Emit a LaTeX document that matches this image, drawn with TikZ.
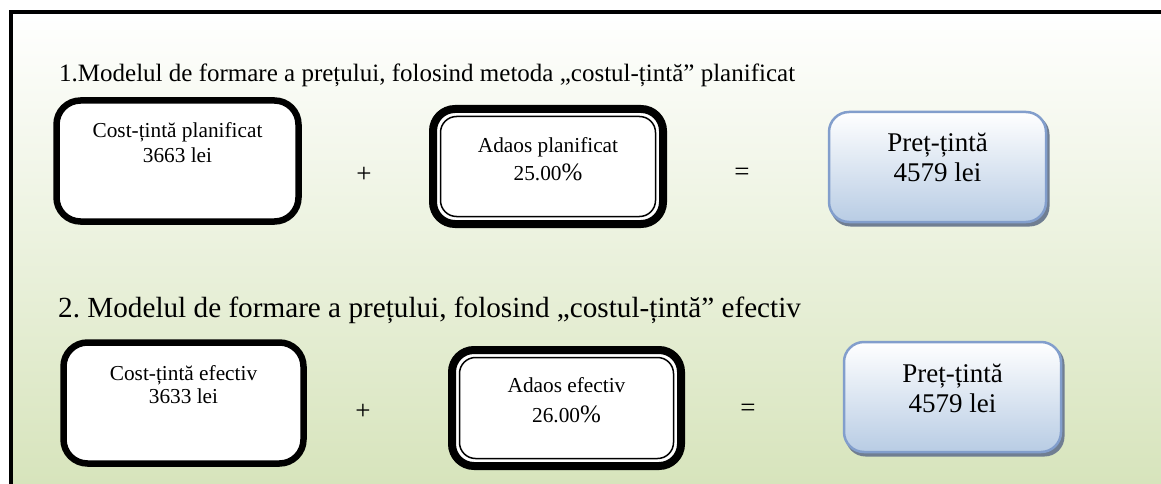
\documentclass[tikz,border=0pt]{standalone}
\usepackage{fontspec}
\setmainfont{Liberation Serif}
\frenchspacing
\definecolor{bgbot}{RGB}{215,228,188}
\definecolor{bluebd}{RGB}{130,158,204}
\definecolor{bluebot}{RGB}{184,204,228}
\definecolor{shadowc}{RGB}{112,126,146}
\begin{document}
\begin{tikzpicture}[x=1pt,y=-1pt,
  costbox/.style={draw=black, line width=6.5pt, fill=white, rounded corners=24pt, inner sep=0pt},
  adaosout/.style={draw=black, line width=8pt, fill=white, rounded corners=22pt, inner sep=0pt},
  adaosin/.style={draw=black, line width=1.5pt, rounded corners=16pt, inner sep=0pt},
  pretbox/.style={draw=bluebd, line width=2.5pt, top color=white, bottom color=bluebot, rounded corners=20pt, inner sep=0pt, minimum width=217pt, minimum height=110pt},
  pretshadow/.style={fill=shadowc, rounded corners=20pt, inner sep=0pt, minimum width=219pt, minimum height=112pt},
  ttl/.style={font=\fontsize{25}{29}\selectfont, anchor=base west, inner sep=0pt},
  ttlb/.style={font=\fontsize{29.2}{33}\selectfont, anchor=base west, inner sep=0pt},
  small/.style={font=\fontsize{21.3}{24}\selectfont, anchor=base, inner sep=0pt},
  big/.style={font=\fontsize{27}{30}\selectfont, anchor=base, inner sep=0pt},
  op/.style={font=\fontsize{27}{30}\selectfont, inner sep=0pt}
]
\useasboundingbox (0,0) rectangle (1161,484);
% background
\shade[top color=white, bottom color=bgbot] (11,12) rectangle (1161,484);
\draw[line width=4pt] (11,486) -- (11,12) -- (1163,12);

% titles
\node[ttl] (t1) at (59,82) {1.Modelul de formare a prețului, folosind metoda „costul-țintă” planificat};
\node[ttlb] (t2) at (58,317) {2. Modelul de formare a prețului, folosind „costul-țintă” efectiv};

% row 1
\node[costbox, minimum width=242pt, minimum height=121pt] (c1) at (177.5,161) {};
\node[small] (c1a) at (177.5,138) {Cost-țintă planificat};
\node[small] (c1b) at (177.5,162) {3663 lei};
\node[op] (p1) at (364,175) {+};

\node[adaosout, minimum width=230pt, minimum height=115pt] (a1) at (548,166.5) {};
\node[adaosin, minimum width=215pt, minimum height=100pt] (a1i) at (548,166.5) {};
\node[small] (a1a) at (548,152) {Adaos planificat};
\node[small] (a1b) at (548,180) {25.00{\fontsize{25}{25}\selectfont\%}};
\node[op] (e1) at (742,174) {=};

\node[pretshadow] (s1) at (940,170.5) {};
\node[pretbox] (r1) at (937.5,167) {};
\node[big] (r1a) at (937.5,151) {Preț-țintă};
\node[big] (r1b) at (937.5,181) {4579 lei};

% row 2
\node[costbox, minimum width=240pt, minimum height=121pt] (c2) at (183.5,403) {};
\node[small] (c2a) at (183.5,380) {Cost-țintă efectiv};
\node[small] (c2b) at (183.5,403) {3633 lei};
\node[op] (p2) at (363,412) {+};

\node[adaosout, minimum width=229pt, minimum height=116pt] (a2) at (566.5,408) {};
\node[adaosin, minimum width=214pt, minimum height=101pt] (a2i) at (566.5,408) {};
\node[small] (a2a) at (566.5,392) {Adaos efectiv};
\node[small] (a2b) at (566.5,422) {26.00{\fontsize{25}{25}\selectfont\%}};
\node[op] (e2) at (748,410) {=};

\node[pretshadow] (s2) at (955,400.5) {};
\node[pretbox] (r2) at (952.5,397) {};
\node[big] (r2a) at (952.5,382) {Preț-țintă};
\node[big] (r2b) at (952.5,412) {4579 lei};
\end{tikzpicture}
\end{document}
